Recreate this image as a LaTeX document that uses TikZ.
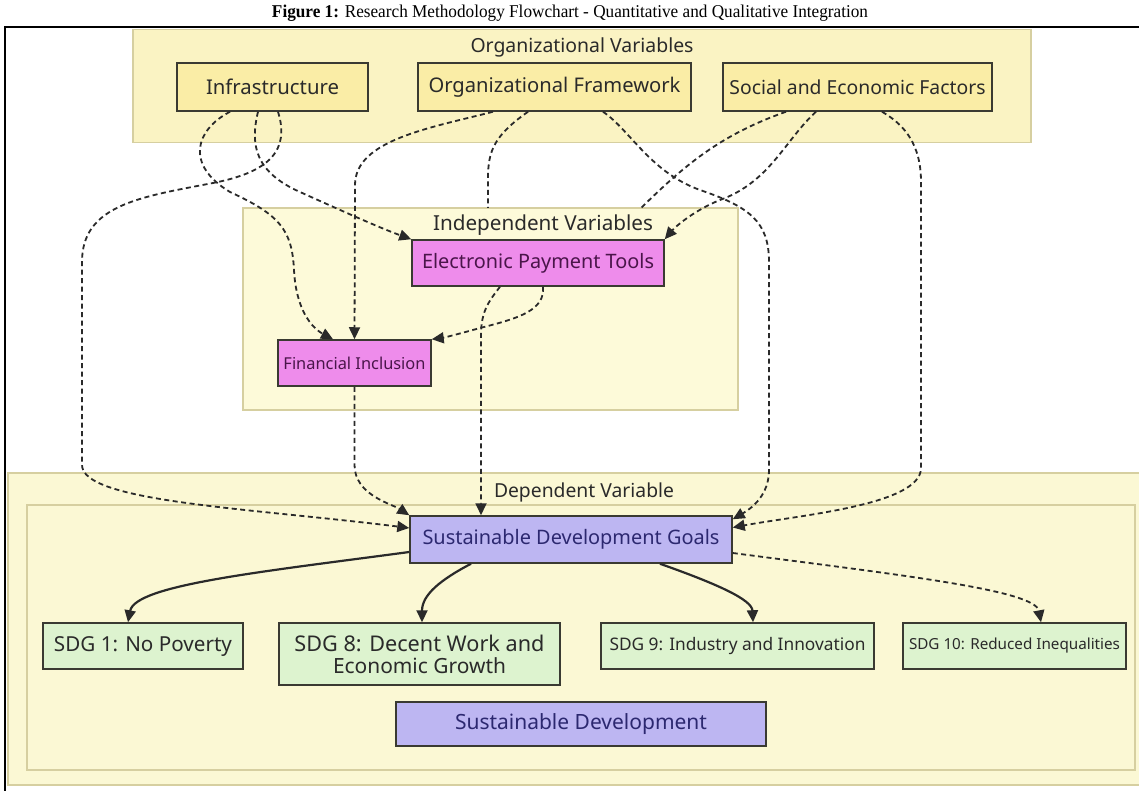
\documentclass[tikz,border=0pt]{standalone}
\usepackage{fontspec}
\setmainfont{Liberation Serif}
\newfontfamily\nsans{Noto Sans}
\usetikzlibrary{arrows.meta}
\definecolor{orgfill}{HTML}{FAF3C3}
\definecolor{indfill}{HTML}{FDFAD9}
\definecolor{depfill}{HTML}{FBF8D4}
\definecolor{contline}{HTML}{D6CFA0}
\definecolor{yfill}{HTML}{FAEDA6}
\definecolor{pfill}{HTML}{EE8CEB}
\definecolor{ptext}{HTML}{4A154A}
\definecolor{lfill}{HTML}{BDB6F2}
\definecolor{ltext}{HTML}{2C2870}
\definecolor{gfill}{HTML}{DDF3CF}
\definecolor{bline}{HTML}{3A3A32}
\definecolor{txt}{HTML}{2A2A2A}
\definecolor{arr}{HTML}{2A2A2A}
\newcommand{\tw}[2]{\resizebox{#1pt}{!}{#2}}
\tikzset{
  cont/.style={draw=contline, line width=1.2pt, inner sep=0pt},
  lbl/.style={inner sep=0pt, font=\nsans\fontsize{16}{18}\selectfont, text=txt},
  bx/.style={draw=bline, line width=1.5pt, inner sep=0pt, font=\nsans\fontsize{16}{22}\selectfont, align=center},
  ybox/.style={bx, fill=yfill, text=txt},
  pbox/.style={bx, fill=pfill, text=ptext},
  lbox/.style={bx, fill=lfill, text=ltext},
  gbox/.style={bx, fill=gfill, text=txt},
  dline/.style={draw=arr, line width=1.8pt, dash pattern=on 5pt off 3.5pt, -{Triangle[length=12pt,width=11pt]}},
  nline/.style={draw=arr, line width=1.8pt, dash pattern=on 5pt off 3.5pt},
  sline/.style={draw=arr, line width=2.2pt, -{Triangle[length=12pt,width=11pt]}}
}
\begin{document}
\begin{tikzpicture}[x=1pt,y=-1pt]
\clip (0,0) rectangle (1139,791);
\fill[white] (0,0) rectangle (1139,791);
% title and frame
\node[inner sep=0pt, font=\fontsize{16}{18}\selectfont] (title) at (570,13) {\resizebox{596pt}{12.5pt}{\textbf{Figure 1:} Research Methodology Flowchart - Quantitative and Qualitative Integration}};
\draw[line width=1.8pt] (5,791) -- (5,27) -- (1139,27);
% containers
\node[cont, fill=orgfill, minimum width=898pt, minimum height=113pt] (org) at (582,86) {};
\node[cont, fill=indfill, minimum width=495pt, minimum height=202pt] (indep) at (490.5,309) {};
\node[cont, fill=depfill, minimum width=1142pt, minimum height=312pt] (depo) at (579,629) {};
\node[cont, fill=depfill, minimum width=1108pt, minimum height=265pt] (depi) at (581,637.5) {};
% container labels
\node[lbl] (orglbl) at (582,47) {\tw{223}{Organizational Variables}};
\node[lbl] (indlbl) at (543,225) {\tw{220}{Independent Variables}};
\node[lbl] (deplbl) at (584,492) {\tw{180}{Dependent Variable}};
% boxes
\node[ybox, minimum width=191pt, minimum height=48pt] (infra) at (272.5,87) {\tw{133}{Infrastructure}};
\node[ybox, minimum width=273pt, minimum height=48pt] (orgf) at (554.5,87) {\tw{252}{Organizational Framework}};
\node[ybox, minimum width=269pt, minimum height=48pt] (social) at (857.5,87) {\tw{256}{Social and Economic Factors}};
\node[pbox, minimum width=252pt, minimum height=46pt] (ept) at (538,263) {\tw{232}{Electronic Payment Tools}};
\node[pbox, minimum width=153pt, minimum height=46pt] (fi) at (354.5,363) {\tw{142}{Financial Inclusion}};
\node[lbox, minimum width=322pt, minimum height=47pt] (sdg) at (571,539.5) {\tw{297}{Sustainable Development Goals}};
\node[gbox, minimum width=200pt, minimum height=46pt] (sdg1) at (143,646) {\tw{178}{SDG 1: No Poverty}};
\node[gbox, minimum width=281pt, minimum height=62pt] (sdg8) at (419.5,654) {\tw{250}{SDG 8: Decent Work and}\\\tw{173}{Economic Growth}};
\node[gbox, minimum width=273pt, minimum height=46pt] (sdg9) at (737.5,646) {\tw{256}{SDG 9: Industry and Innovation}};
\node[gbox, minimum width=223pt, minimum height=46pt] (sdg10) at (1014.5,646) {\tw{211}{SDG 10: Reduced Inequalities}};
\node[lbox, minimum width=370pt, minimum height=44pt] (sd) at (581,724) {\tw{252}{Sustainable Development}};
% free ends
\coordinate (eend) at (488,208);
\coordinate (gend) at (641,208);
% connectors from Infrastructure
\draw[dline] ([xshift=-42.5pt]infra.south) .. controls (195,130) and (185,165) .. (230,192) .. controls (280,215) and (292,230) .. (294,270) .. controls (296,310) and (312,328) .. ([xshift=-21.5pt]fi.north);
\draw[dline] ([xshift=-14.5pt]infra.south) .. controls (250,145) and (255,172) .. (300,192) .. controls (340,210) and (380,228) .. (ept.north west);
\draw[dline] ([xshift=5.5pt]infra.south) .. controls (290,150) and (270,172) .. (213,183) .. controls (140,197) and (82,205) .. (82,262) -- (82,465) .. controls (82,502) and (250,508) .. ([yshift=11.5pt]sdg.west);
% connectors from Organizational Framework
\draw[dline] ([xshift=-61.5pt]orgf.south) .. controls (430,128) and (355,140) .. (355,185) -- (fi.north);
\draw[nline] ([xshift=-26.5pt]orgf.south) .. controls (495,135) and (488,150) .. (488,178) -- (eend);
\draw[dline] ([xshift=48.5pt]orgf.south) .. controls (630,130) and (650,172) .. (700,190) .. controls (750,207) and (769,222) .. (769,262) -- (769,470) .. controls (769,495) and (752,508) .. ([yshift=-4pt]sdg.north east);
% connectors from Social and Economic Factors
\draw[nline] ([xshift=-71.5pt]social.south) .. controls (720,135) and (685,165) .. (gend);
\draw[dline] ([xshift=-41.5pt]social.south) .. controls (785,140) and (770,182) .. (720,200) .. controls (695,210) and (676,226) .. (ept.north east);
\draw[dline] ([xshift=24.5pt]social.south) .. controls (905,125) and (921,145) .. (921,182) -- (921,468) .. controls (921,505) and (800,515) .. ([yshift=12pt]sdg.east);
% independent variables
\draw[dline] ([xshift=-38pt]ept.south) .. controls (490,300) and (481,310) .. (481,335) -- ([xshift=-90pt]sdg.north);
\draw[dline] ([xshift=5pt]ept.south) .. controls (545,310) and (520,318) .. (480,328) .. controls (455,335) and (442,338) .. (fi.north east);
\draw[dline] (fi.south) -- (354.5,465) .. controls (354.5,495) and (392,504) .. (sdg.north west);
% SDG outputs
\draw[sline] ([yshift=-12.5pt]sdg.west) .. controls (260,572) and (135,585) .. ([xshift=-15pt]sdg1.north);
\draw[sline] ([xshift=-100pt]sdg.south) .. controls (440,580) and (422,595) .. ([xshift=2.5pt]sdg8.north);
\draw[sline] ([xshift=89pt]sdg.south) .. controls (720,585) and (752,600) .. ([xshift=15.5pt]sdg9.north);
\draw[dline] ([yshift=-13.5pt]sdg.east) .. controls (900,575) and (1035,590) .. ([xshift=26.5pt]sdg10.north);
\end{tikzpicture}
\end{document}
